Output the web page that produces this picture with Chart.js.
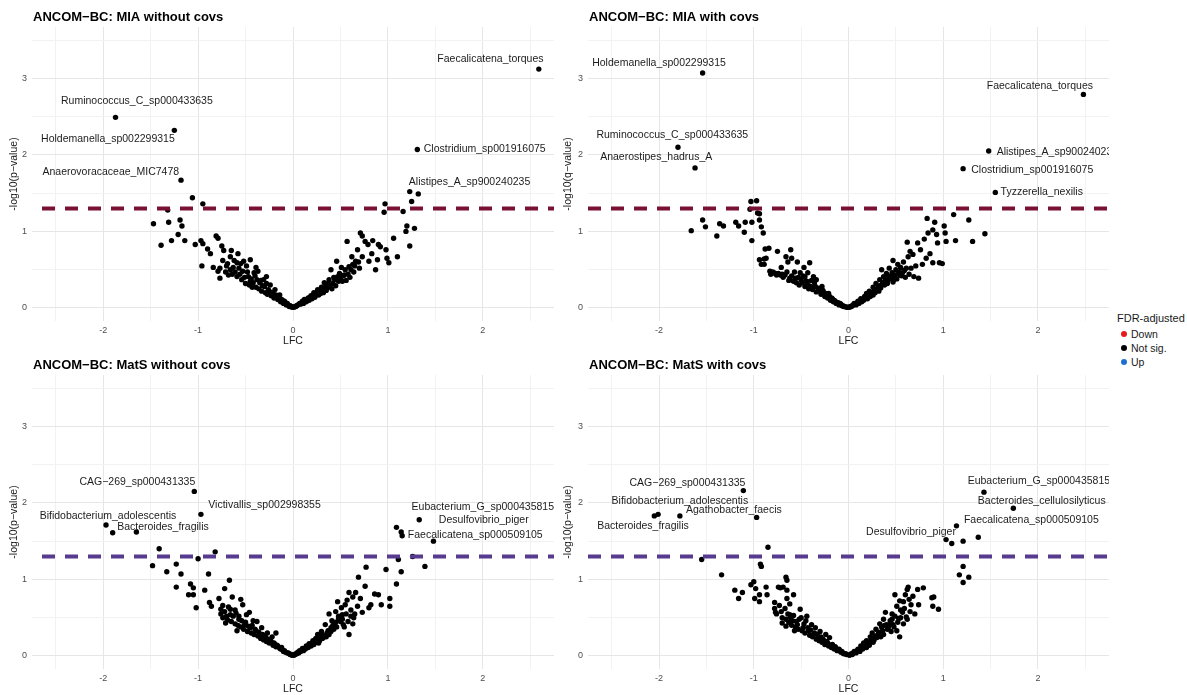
<!DOCTYPE html>
<html>
<head>
<meta charset="utf-8">
<title>ANCOM-BC volcano plots</title>
<script src="https://cdn.jsdelivr.net/npm/chart.js@4.4.1/dist/chart.umd.min.js"></script>
<style>
  body { margin: 0; background: #fff; width: 1187px; height: 695px; overflow: hidden; position: relative;
         font-family: "Liberation Sans", Arial, sans-serif; }
  canvas { position: absolute; }
  #legend { position: absolute; left: 1117px; top: 311px; color: #1a1a1a; }
  #legend .ttl { font-size: 11px; line-height: 14px; height: 14px; margin-bottom: 2px; }
  #legend .row { font-size: 10.5px; line-height: 14px; height: 14px; position: relative; padding-left: 14px; }
  #legend .dot { position: absolute; left: 4px; top: 4px; width: 6px; height: 6px; border-radius: 50%; }
</style>
</head>
<body>
<canvas id="p1" width="558" height="347" style="left:0px;top:0px"></canvas>
<canvas id="p2" width="553" height="347" style="left:560px;top:0px"></canvas>
<canvas id="p3" width="558" height="347" style="left:0px;top:348px"></canvas>
<canvas id="p4" width="553" height="347" style="left:560px;top:348px"></canvas>
<div id="legend">
  <div class="ttl">FDR-adjusted</div>
  <div class="row"><span class="dot" style="background:#e41a1c"></span>Down</div>
  <div class="row"><span class="dot" style="background:#000"></span>Not sig.</div>
  <div class="row"><span class="dot" style="background:#1f6fd0"></span>Up</div>
</div>
<script>
// axis grid values and the labelled ones
const xGrid = [-2.5, -2, -1.5, -1, -0.5, 0, 0.5, 1, 1.5, 2, 2.5];
const yGrid = [0, 0.5, 1, 1.5, 2, 2.5, 3, 3.5];
const xMajor = [-2, -1, 0, 1, 2];
const yMajor = [0, 1, 2, 3];
const threshold = 1.301; // -log10(0.05)

// panel titles
const panelTitles = [
  'ANCOM\u2212BC: MIA without covs',
  'ANCOM\u2212BC: MIA with covs',
  'ANCOM\u2212BC: MatS without covs',
  'ANCOM\u2212BC: MatS with covs'
];
const yTitles = ['-log10(p\u2212value)', '-log10(q\u2212value)', '-log10(p\u2212value)', '-log10(p\u2212value)'];

// [LFC, -log10(p)]
const miaNoCov = [
  [2.59,3.12],[-1.87,2.49],[-1.25,2.32],[1.31,2.07],[-1.18,1.67],[1.23,1.52],[1.32,1.49],
  [-1.47,1.10],[-1.39,0.82],[-1.32,1.28],[-1.31,1.12],[-1.28,0.88],[-1.21,0.96],[-1.19,1.15],[-1.17,1.07],
  [-1.14,0.88],[-1.06,1.44],[-1.03,0.83],[-0.97,0.88],[-0.95,1.36],[-0.96,0.55],[-0.95,0.84],[-0.90,0.77],
  [-0.87,0.71],[-0.84,0.53],[-0.81,0.94],[-0.79,0.91],[-0.77,0.52],[-0.75,0.81],[-0.79,0.48],[-0.77,0.39],
  [-0.73,0.75],[-0.70,0.55],[-0.66,0.67],[-0.68,0.43],[-0.65,0.75],[-0.63,0.53],[-0.59,0.59],[-0.59,0.41],
  [-0.58,0.71],[-0.54,0.37],[-0.52,0.61],[-0.49,0.55],[-0.47,0.41],[-0.45,0.63],[-0.45,0.35],[-0.41,0.46],
  [-0.39,0.53],[-0.38,0.37],[-0.35,0.33],[-0.37,0.48],[-0.31,0.37],[-0.30,0.28],[-0.28,0.41],[-0.26,0.24],
  [-0.24,0.30],[-0.22,0.20],[-0.19,0.24],[-0.17,0.15],[-0.14,0.17],[-0.12,0.11],[-0.09,0.09],[-0.06,0.06],
  [-0.03,0.03],[-0.01,0.01],
  [0.03,0.02],[0.07,0.06],[0.10,0.09],[0.12,0.11],[0.16,0.13],[0.19,0.16],[0.22,0.20],[0.24,0.17],[0.26,0.24],
  [0.30,0.27],[0.31,0.22],[0.33,0.33],[0.36,0.26],[0.38,0.37],[0.40,0.50],[0.42,0.32],[0.44,0.37],[0.46,0.61],
  [0.47,0.41],[0.50,0.39],[0.51,0.53],[0.52,0.35],[0.54,0.43],[0.57,0.87],[0.59,0.54],[0.60,0.40],[0.62,0.67],
  [0.63,0.57],[0.66,0.61],[0.68,0.76],[0.70,0.52],[0.71,0.98],[0.73,0.94],[0.73,0.67],[0.76,0.87],[0.79,0.83],
  [0.80,0.61],[0.83,0.71],[0.84,0.88],[0.87,0.50],[0.90,0.83],[0.89,0.63],[0.92,0.80],[0.97,1.36],[0.96,1.25],
  [0.98,0.76],[0.99,0.65],[1.01,0.59],[1.06,0.91],[1.10,0.67],[1.16,1.26],[1.19,1.00],[1.20,1.07],[1.25,1.39],
  [1.23,0.81],[1.28,1.04],
  [-0.74,0.62],[-0.71,0.47],[-0.69,0.58],[-0.66,0.50],[-0.64,0.44],[-0.62,0.62],[-0.61,0.47],[-0.57,0.52],
  [-0.56,0.44],[-0.55,0.58],[-0.53,0.48],[-0.51,0.40],[-0.50,0.32],[-0.48,0.47],[-0.46,0.30],[-0.44,0.38],
  [-0.43,0.27],[-0.42,0.33],[-0.40,0.42],[-0.39,0.27],[-0.36,0.25],[-0.34,0.36],[-0.33,0.22],[-0.32,0.29],
  [-0.29,0.20],[-0.28,0.32],[-0.27,0.18],[-0.25,0.22],[-0.23,0.16],[-0.21,0.19],[-0.20,0.13],[-0.18,0.17],
  [-0.16,0.11],[-0.15,0.13],[-0.13,0.08],[-0.11,0.10],[-0.10,0.06],[-0.08,0.07],[-0.07,0.04],[-0.05,0.04],
  [-0.04,0.02],[-0.02,0.02],
  [0.01,0.01],[0.02,0.02],[0.04,0.03],[0.05,0.04],[0.08,0.05],[0.09,0.07],[0.11,0.06],[0.13,0.09],[0.14,0.08],
  [0.15,0.11],[0.17,0.10],[0.18,0.14],[0.20,0.12],[0.21,0.17],[0.23,0.14],[0.25,0.20],[0.27,0.17],[0.28,0.22],
  [0.29,0.19],[0.32,0.20],[0.34,0.27],[0.35,0.23],[0.37,0.32],[0.39,0.28],[0.41,0.25],[0.43,0.40],[0.45,0.29],
  [0.48,0.35],[0.49,0.45],[0.53,0.42],[0.55,0.50],[0.56,0.36],[0.58,0.44],[0.61,0.50],[0.64,0.47],[0.65,0.55],
  [0.69,0.60]
];

const miaCov = [
  [-1.54,3.07],[2.48,2.79],[-1.80,2.10],[-1.62,1.83],[1.48,2.05],[1.21,1.82],[1.55,1.51],[-1.66,1.01],
  [-1.54,1.15],[-1.51,1.06],[-1.39,0.94],[-1.36,1.10],[-1.32,1.07],[-1.19,1.12],[-1.16,1.07],[-1.10,0.99],
  [-1.09,1.12],[-1.04,1.29],[-1.03,1.39],[-0.97,1.40],[-1.02,1.12],[-0.96,1.24],[-0.94,1.23],[-1.02,0.88],
  [-0.94,1.15],[-0.92,1.06],[-0.90,0.98],[-0.88,0.77],[-0.84,0.78],[-0.94,0.63],[-0.92,0.57],[-0.89,0.64],
  [-0.87,0.65],[-0.89,0.57],[-0.83,0.48],[-0.79,0.46],[-0.74,0.45],[-0.75,0.74],[-0.71,0.53],[-0.72,0.43],
  [-0.67,0.43],[-0.66,0.67],[-0.64,0.60],[-0.61,0.76],[-0.60,0.65],[-0.62,0.39],[-0.56,0.39],[-0.54,0.60],
  [-0.51,0.46],[-0.50,0.37],[-0.47,0.53],[-0.46,0.41],[-0.44,0.35],[-0.43,0.46],[-0.41,0.59],[-0.40,0.28],
  [-0.37,0.41],[-0.36,0.33],[-0.34,0.37],[-0.32,0.26],[-0.30,0.22],[-0.28,0.28],[-0.26,0.20],[-0.23,0.16],
  [-0.21,0.19],[-0.18,0.13],[-0.15,0.10],[-0.12,0.07],[-0.09,0.06],[-0.06,0.03],[-0.02,0.01],
  [0.03,0.02],[0.06,0.06],[0.10,0.09],[0.13,0.12],[0.17,0.15],[0.19,0.19],[0.22,0.22],[0.25,0.20],[0.26,0.27],
  [0.29,0.32],[0.31,0.26],[0.33,0.37],[0.35,0.50],[0.37,0.41],[0.40,0.45],[0.41,0.35],[0.43,0.52],[0.45,0.41],
  [0.47,0.62],[0.48,0.37],[0.50,0.50],[0.52,0.57],[0.54,0.43],[0.55,0.53],[0.57,0.46],[0.58,0.60],[0.61,0.52],
  [0.62,0.86],[0.63,0.67],[0.65,0.74],[0.68,0.70],[0.69,0.41],[0.71,0.55],[0.73,0.85],[0.74,0.39],[0.76,0.76],
  [0.78,0.57],[0.80,0.90],[0.82,0.65],[0.83,1.17],[0.84,0.98],[0.86,0.71],[0.89,0.59],[0.89,1.02],[0.91,1.12],
  [0.93,0.96],[0.94,0.85],[0.96,0.59],[0.99,0.58],[1.01,1.07],[1.02,0.98],[1.03,0.87],[1.11,1.22],[1.13,0.88],
  [1.27,1.15],[1.31,0.87],[1.44,0.97],
  [-0.82,0.44],[-0.80,0.47],[-0.77,0.45],[-0.76,0.43],[-0.70,0.44],[-0.69,0.40],[-0.65,0.47],[-0.63,0.36],
  [-0.60,0.42],[-0.58,0.35],[-0.57,0.47],[-0.55,0.33],[-0.53,0.40],[-0.52,0.30],[-0.49,0.33],[-0.48,0.42],
  [-0.46,0.28],[-0.45,0.35],[-0.43,0.31],[-0.42,0.25],[-0.39,0.36],[-0.38,0.24],[-0.35,0.28],[-0.34,0.21],
  [-0.31,0.25],[-0.29,0.18],[-0.27,0.23],[-0.25,0.15],[-0.24,0.19],[-0.22,0.13],[-0.20,0.15],[-0.19,0.10],
  [-0.17,0.12],[-0.16,0.08],[-0.14,0.09],[-0.13,0.06],[-0.11,0.07],[-0.10,0.04],[-0.08,0.05],[-0.07,0.03],
  [-0.05,0.02],[-0.04,0.02],[-0.01,0.01],
  [0.01,0.01],[0.02,0.02],[0.04,0.03],[0.05,0.04],[0.07,0.05],[0.08,0.04],[0.09,0.07],[0.11,0.06],[0.12,0.09],
  [0.14,0.08],[0.15,0.11],[0.16,0.10],[0.18,0.13],[0.20,0.12],[0.21,0.16],[0.23,0.15],[0.24,0.19],[0.26,0.17],
  [0.27,0.22],[0.28,0.20],[0.30,0.24],[0.32,0.22],[0.33,0.29],[0.34,0.26],[0.36,0.33],[0.38,0.30],[0.39,0.37],
  [0.41,0.32],[0.42,0.42],[0.44,0.38],[0.46,0.46],[0.47,0.34],[0.49,0.43],[0.51,0.38],[0.53,0.47],[0.56,0.42],
  [0.59,0.49],[0.60,0.40],[0.64,0.44],[0.66,0.52]
];

const matsNoCov = [
  [-1.04,2.15],[-0.97,1.85],[-1.97,1.71],[-1.90,1.61],[-1.65,1.62],[1.33,1.78],
  [-1.48,1.18],[-1.41,1.40],[-1.33,1.10],[-1.23,1.20],[-1.23,0.90],[-1.18,1.07],[-1.08,0.94],[-1.05,0.89],
  [-1.10,0.80],[-1.05,0.80],[-1.02,0.63],[-1.00,1.27],[-0.93,0.86],[-0.89,1.07],[-0.82,1.36],[-0.88,0.70],
  [-0.86,0.65],[-0.78,0.75],[-0.76,0.61],[-0.72,0.88],[-0.67,0.99],[-0.74,0.50],[-0.71,0.43],[-0.68,0.64],
  [-0.66,0.54],[-0.64,0.77],[-0.61,0.60],[-0.59,0.33],[-0.57,0.48],[-0.55,0.74],[-0.53,0.67],[-0.51,0.41],
  [-0.49,0.54],[-0.46,0.57],[-0.45,0.37],[-0.42,0.46],[-0.39,0.33],[-0.38,0.45],[-0.35,0.28],[-0.33,0.37],
  [-0.30,0.24],[-0.27,0.30],[-0.24,0.20],[-0.22,0.25],[-0.18,0.30],[-0.19,0.15],[-0.16,0.13],[-0.12,0.11],
  [-0.09,0.07],[-0.05,0.04],[-0.02,0.02],
  [0.03,0.03],[0.07,0.07],[0.10,0.10],[0.14,0.13],[0.17,0.16],[0.21,0.20],[0.24,0.23],[0.26,0.28],[0.27,0.17],
  [0.30,0.32],[0.32,0.24],[0.34,0.41],[0.36,0.30],[0.38,0.55],[0.40,0.37],[0.41,0.46],[0.44,0.41],[0.45,0.58],
  [0.47,0.71],[0.48,0.49],[0.51,0.63],[0.52,0.54],[0.53,0.41],[0.55,0.67],[0.57,0.73],[0.59,0.83],[0.59,0.28],
  [0.61,0.60],[0.63,0.77],[0.64,0.50],[0.66,0.83],[0.68,0.65],[0.69,1.03],[0.71,0.75],[0.73,0.57],[0.76,0.91],
  [0.77,1.16],[0.80,0.63],[0.82,0.67],[0.86,0.81],[0.90,0.80],[0.93,0.67],[0.98,1.13],[1.02,0.65],[1.02,0.75],
  [1.09,0.94],[1.11,1.26],[1.14,1.10],[1.39,1.17],[1.48,1.50],[1.09,1.68],[1.14,1.62],[1.15,1.57],[1.26,1.30],
  [-0.76,0.55],[-0.74,0.66],[-0.72,0.58],[-0.70,0.52],[-0.69,0.47],[-0.66,0.61],[-0.65,0.45],[-0.63,0.52],
  [-0.61,0.42],[-0.60,0.56],[-0.58,0.40],[-0.57,0.52],[-0.55,0.38],[-0.54,0.46],[-0.52,0.35],[-0.50,0.44],
  [-0.48,0.32],[-0.47,0.39],[-0.44,0.30],[-0.43,0.40],[-0.41,0.28],[-0.40,0.35],[-0.37,0.26],[-0.36,0.31],
  [-0.34,0.23],[-0.32,0.28],[-0.31,0.21],[-0.29,0.25],[-0.28,0.19],[-0.26,0.22],[-0.25,0.17],[-0.23,0.19],
  [-0.21,0.14],[-0.20,0.17],[-0.18,0.12],[-0.17,0.14],[-0.14,0.10],[-0.13,0.09],[-0.11,0.08],[-0.10,0.06],
  [-0.08,0.05],[-0.06,0.04],[-0.04,0.03],[-0.03,0.02],[-0.01,0.01],
  [0.01,0.01],[0.02,0.02],[0.04,0.03],[0.05,0.05],[0.06,0.04],[0.08,0.06],[0.09,0.08],[0.11,0.07],[0.12,0.10],
  [0.13,0.09],[0.15,0.12],[0.16,0.11],[0.18,0.14],[0.19,0.13],[0.20,0.17],[0.22,0.15],[0.23,0.20],[0.25,0.18],
  [0.26,0.22],[0.28,0.20],[0.29,0.26],[0.31,0.23],[0.33,0.27],[0.35,0.25],[0.37,0.33],[0.38,0.28],[0.40,0.32],
  [0.42,0.40],[0.43,0.35],[0.45,0.44],[0.46,0.38],[0.48,0.52],[0.50,0.45],[0.52,0.48],[0.54,0.38],[0.56,0.55],
  [0.58,0.45],[0.61,0.52],[0.63,0.42],[0.65,0.55]
];

const matsCov = [
  [-1.11,2.16],[-2.05,1.83],[-2.01,1.85],[-1.78,1.83],[-0.97,1.81],[1.43,2.14],[1.74,1.93],[1.14,1.70],
  [-1.55,1.26],[-1.34,1.06],[-1.20,0.86],[-1.16,0.75],[-1.12,0.83],[-1.03,0.93],[-1.00,0.97],[-0.98,0.88],
  [-0.99,0.75],[-0.94,0.71],[-0.93,1.20],[-0.92,1.17],[-0.94,0.80],[-0.87,0.90],[-0.86,0.80],[-0.85,1.42],
  [-0.78,0.70],[-0.77,0.57],[-0.74,0.90],[-0.72,0.89],[-0.69,0.90],[-0.66,1.03],[-0.65,0.99],[-0.65,0.86],
  [-0.62,0.68],[-0.58,0.80],[-0.65,0.75],[-0.70,0.43],[-0.66,0.39],[-0.62,0.54],[-0.59,0.46],[-0.57,0.33],
  [-0.54,0.41],[-0.51,0.61],[-0.50,0.50],[-0.48,0.37],[-0.45,0.46],[-0.44,0.52],[-0.42,0.33],[-0.39,0.41],
  [-0.37,0.28],[-0.35,0.37],[-0.32,0.24],[-0.30,0.32],[-0.27,0.22],[-0.24,0.28],[-0.22,0.17],[-0.20,0.24],
  [-0.17,0.15],[-0.14,0.12],[-0.10,0.09],[-0.07,0.06],[-0.03,0.03],
  [0.03,0.03],[0.06,0.06],[0.10,0.09],[0.13,0.13],[0.16,0.17],[0.19,0.20],[0.20,0.15],[0.23,0.25],[0.25,0.30],
  [0.27,0.23],[0.29,0.35],[0.31,0.28],[0.33,0.42],[0.35,0.38],[0.37,0.48],[0.39,0.57],[0.40,0.41],[0.42,0.37],
  [0.44,0.46],[0.46,0.55],[0.47,0.41],[0.49,0.80],[0.51,0.65],[0.53,0.49],[0.54,0.72],[0.55,0.60],[0.57,0.57],
  [0.58,0.71],[0.60,0.80],[0.61,0.51],[0.62,0.87],[0.63,0.90],[0.64,0.74],[0.66,0.67],[0.68,0.78],[0.70,0.55],
  [0.73,0.87],[0.74,0.67],[0.79,0.89],[0.88,0.76],[0.89,0.65],[0.95,0.61],[0.90,0.77],[0.54,0.25],[0.51,0.33],
  [1.03,1.52],[1.09,1.47],[1.21,1.50],[1.37,1.55],[1.21,1.17],[1.17,1.06],[1.27,1.03],[1.21,0.96],
  [-0.78,0.62],[-0.76,0.55],[-0.73,0.66],[-0.71,0.58],[-0.70,0.50],[-0.67,0.62],[-0.66,0.48],[-0.64,0.55],
  [-0.63,0.44],[-0.61,0.50],[-0.60,0.40],[-0.58,0.53],[-0.56,0.38],[-0.55,0.45],[-0.53,0.35],[-0.52,0.48],
  [-0.49,0.33],[-0.47,0.42],[-0.46,0.30],[-0.43,0.37],[-0.41,0.27],[-0.40,0.34],[-0.38,0.25],[-0.36,0.30],
  [-0.34,0.22],[-0.33,0.28],[-0.31,0.20],[-0.29,0.25],[-0.28,0.18],[-0.26,0.20],[-0.25,0.15],[-0.23,0.19],
  [-0.21,0.13],[-0.19,0.14],[-0.18,0.11],[-0.16,0.12],[-0.15,0.09],[-0.13,0.10],[-0.12,0.07],[-0.09,0.07],
  [-0.08,0.05],[-0.06,0.04],[-0.05,0.03],[-0.02,0.02],
  [0.01,0.01],[0.02,0.02],[0.04,0.02],[0.05,0.04],[0.07,0.05],[0.08,0.04],[0.09,0.07],[0.11,0.08],[0.12,0.06],
  [0.14,0.10],[0.15,0.09],[0.17,0.12],[0.18,0.14],[0.19,0.11],[0.21,0.17],[0.22,0.14],[0.24,0.20],[0.26,0.18],
  [0.27,0.21],[0.28,0.26],[0.30,0.24],[0.32,0.31],[0.34,0.25],[0.36,0.33],[0.37,0.28],[0.38,0.40],[0.41,0.35],
  [0.43,0.41],[0.45,0.32],[0.46,0.48],[0.48,0.38],[0.49,0.52],[0.52,0.44],[0.55,0.50],[0.58,0.42],[0.59,0.62],
  [0.62,0.48],[0.65,0.58]
];

// point labels: [text, LFC, -log10(p)] where the text sits
const miaNoCovLabels = [
  ['Faecalicatena_torques', 2.08, 3.25],
  ['Ruminococcus_C_sp000433635', -1.645, 2.70],
  ['Holdemanella_sp002299315', -1.95, 2.20],
  ['Clostridium_sp001916075', 2.02, 2.07],
  ['Anaerovoracaceae_MIC7478', -1.92, 1.78],
  ['Alistipes_A_sp900240235', 1.86, 1.65]
];
const miaCovLabels = [
  ['Holdemanella_sp002299315', -2.0, 3.20],
  ['Faecalicatena_torques', 2.02, 2.90],
  ['Ruminococcus_C_sp000433635', -1.86, 2.26],
  ['Anaerostipes_hadrus_A', -2.03, 1.97],
  ['Alistipes_A_sp900240235', 2.205, 2.03],
  ['Clostridium_sp001916075', 1.94, 1.80],
  ['Tyzzerella_nexilis', 2.04, 1.51]
];
const matsNoCovLabels = [
  ['CAG\u2212269_sp000431335', -1.64, 2.27],
  ['Victivallis_sp002998355', -0.30, 1.97],
  ['Bifidobacterium_adolescentis', -1.95, 1.83],
  ['Bacteroides_fragilis', -1.37, 1.68],
  ['Eubacterium_G_sp000435815', 2.00, 1.94],
  ['Desulfovibrio_piger', 2.01, 1.77],
  ['Faecalicatena_sp000509105', 1.92, 1.58]
];
const matsCovLabels = [
  ['CAG\u2212269_sp000431335', -1.70, 2.26],
  ['Bifidobacterium_adolescentis', -1.78, 2.02],
  ['Agathobacter_faecis', -1.21, 1.91],
  ['Bacteroides_fragilis', -2.17, 1.70],
  ['Eubacterium_G_sp000435815', 2.01, 2.29],
  ['Bacteroides_cellulosilyticus', 2.04, 2.02],
  ['Faecalicatena_sp000509105', 1.93, 1.77],
  ['Desulfovibrio_piger', 0.66, 1.62]
];

const FONT = '"Liberation Sans", Arial, sans-serif';
Chart.defaults.font.family = FONT;

// Plugin: panel title and the text labels next to the points
const panelText = {
  id: 'panelText',
  afterDatasetsDraw(chart, args, opts) {
    const { ctx, chartArea: a, scales: { x, y } } = chart;
    ctx.save();
    ctx.beginPath();
    ctx.rect(a.left, a.top, a.right - a.left, a.bottom - a.top);
    ctx.clip();
    ctx.font = '10.5px ' + FONT;
    ctx.fillStyle = '#1c1c1c';
    ctx.textAlign = 'center';
    ctx.textBaseline = 'middle';
    opts.labels.forEach(([t, lx, ly]) => ctx.fillText(t, x.getPixelForValue(lx), y.getPixelForValue(ly)));
    ctx.restore();

    ctx.save();
    ctx.font = 'bold 13px ' + FONT;
    ctx.fillStyle = '#000';
    ctx.textAlign = 'left';
    ctx.textBaseline = 'middle';
    ctx.fillText(opts.title, a.left + 1, a.top - 10);
    ctx.restore();
  }
};

// Function to build one volcano panel
function createPanel(id, points, labels, title, yTitle, lineColor, dashOffset, yWidth, yTitlePad) {
  const ctx = document.getElementById(id).getContext('2d');
  return new Chart(ctx, {
    type: 'scatter',
    data: {
      datasets: [
        {
          type: 'line',
          data: [{ x: -2.75, y: threshold }, { x: 2.75, y: threshold }],
          borderColor: lineColor,
          borderWidth: 4,
          borderDash: [13, 10],
          borderDashOffset: dashOffset,
          pointRadius: 0,
          order: 0
        },
        {
          label: 'Not sig.',
          data: points.map(p => ({ x: p[0], y: p[1] })),
          backgroundColor: '#000',
          borderWidth: 0,
          pointRadius: 2.7,
          order: 1
        }
      ]
    },
    options: {
      responsive: false,
      animation: false,
      layout: { padding: { top: 27, right: 2, left: 0, bottom: 0 } },
      plugins: {
        legend: { display: false },
        tooltip: { enabled: false },
        panelText: { labels: labels, title: title }
      },
      scales: {
        x: {
          type: 'linear',
          min: -2.75,
          max: 2.75,
          afterBuildTicks: s => { s.ticks = xGrid.map(v => ({ value: v })); },
          afterFit: s => { s.height = 26; },
          border: { display: false },
          grid: {
            drawTicks: false,
            color: c => xMajor.includes(c.tick.value) ? '#e6e6e6' : '#f2f2f2'
          },
          ticks: {
            autoSkip: false,
            maxRotation: 0,
            padding: 4,
            color: '#4d4d4d',
            font: { size: 9 },
            callback: v => xMajor.includes(v) ? String(v) : ''
          },
          title: { display: true, text: 'LFC', color: '#1a1a1a', font: { size: 10.5 }, padding: { top: 0, bottom: 0 } }
        },
        y: {
          type: 'linear',
          min: -0.17,
          max: 3.67,
          afterBuildTicks: s => { s.ticks = yGrid.map(v => ({ value: v })); },
          afterFit: s => { s.width = yWidth; },
          border: { display: false },
          grid: {
            drawTicks: false,
            color: c => yMajor.includes(c.tick.value) ? '#e6e6e6' : '#f2f2f2'
          },
          ticks: {
            autoSkip: false,
            padding: 5,
            color: '#4d4d4d',
            font: { size: 9 },
            callback: v => yMajor.includes(v) ? String(v) : ''
          },
          title: { display: true, text: yTitle, color: '#1a1a1a', font: { size: 10.5 }, padding: { top: yTitlePad, bottom: 0 } }
        }
      }
    },
    plugins: [panelText]
  });
}

createPanel('p1', miaNoCov, miaNoCovLabels, panelTitles[0], yTitles[0], '#7a1034', 13, 32, 8);
createPanel('p2', miaCov, miaCovLabels, panelTitles[1], yTitles[1], '#7a1034', 0, 28, 2);
createPanel('p3', matsNoCov, matsNoCovLabels, panelTitles[2], yTitles[2], '#573b8e', 13, 32, 8);
createPanel('p4', matsCov, matsCovLabels, panelTitles[3], yTitles[3], '#573b8e', 0, 28, 2);
</script>
</body>
</html>
